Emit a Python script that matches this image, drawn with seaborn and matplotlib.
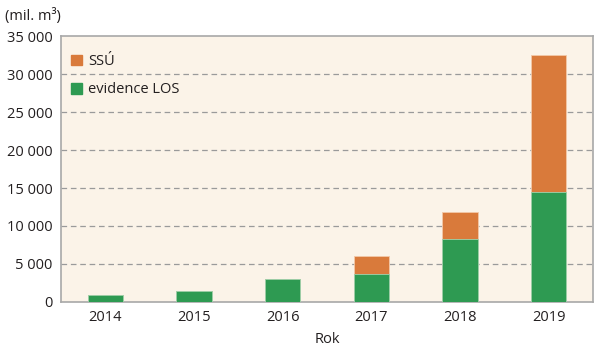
import matplotlib
matplotlib.use("Agg")
import matplotlib.pyplot as plt
from matplotlib.ticker import FuncFormatter, MultipleLocator
from matplotlib.patches import Patch
import seaborn as sns
import pandas as pd

years = ["2014", "2015", "2016", "2017", "2018", "2019"]
evidence_los = [950, 1500, 3000, 3700, 8300, 14500]
ssu = [0, 0, 0, 2300, 3600, 18000]

GREEN = "#2E9A52"
ORANGE = "#D97A3B"
BG = "#FBF3E8"
SPINE = "#A8A8A8"
TEXT = "#231F20"

sns.set_theme(style="white")
plt.rcParams["font.family"] = ["Open Sans", "DejaVu Sans"]

df = pd.DataFrame({
    "Rok": years,
    "los": evidence_los,
    "ssu": ssu,
})
df["total"] = df["los"] + df["ssu"]

fig = plt.figure(figsize=(6.0, 3.49), dpi=100)
ax = fig.add_axes([0.1017, 0.1347, 0.8866, 0.7621])
ax.set_facecolor(BG)

# stacked bars: full height in orange, LOS part painted over in green
sns.barplot(data=df, x="Rok", y="total", color=ORANGE, width=0.4,
            saturation=1, ax=ax, zorder=3, edgecolor="#F3C9A8", linewidth=0.6)
sns.barplot(data=df, x="Rok", y="los", color=GREEN, width=0.4,
            saturation=1, ax=ax, zorder=4, edgecolor="#9FD2AE", linewidth=0.6)

ax.set_ylim(0, 35000)
ax.set_xlim(-0.5, len(years) - 0.5)
ax.yaxis.set_major_locator(MultipleLocator(5000))
ax.yaxis.set_major_formatter(
    FuncFormatter(lambda v, p: f"{int(v):,}".replace(",", " ")))

for y in range(5000, 35000, 5000):
    ax.axhline(y, color="#9A9A9A", lw=0.9, ls=(0, (4.5, 3)), zorder=1)

for s in ax.spines.values():
    s.set_color(SPINE)
    s.set_linewidth(1.2)
    s.set_visible(True)

ax.tick_params(axis="both", length=0, labelsize=10.5, colors=TEXT, pad=6)
ax.set_xlabel("Rok", fontsize=10.5, color=TEXT, labelpad=5)
ax.set_ylabel("")
fig.text(0.008, 0.955, "(mil. m³)", fontsize=10.5, color=TEXT,
         ha="left", va="center")

handles = [Patch(color=ORANGE, label="SSÚ"),
           Patch(color=GREEN, label="evidence LOS")]
ax.legend(handles=handles, loc="upper left", frameon=False, fontsize=10.5,
          handlelength=0.75, handleheight=0.75, handletextpad=0.4,
          labelspacing=0.9, borderaxespad=0.3, bbox_to_anchor=(0.0, 0.97),
          labelcolor=TEXT)

fig.savefig("out.png", dpi=100, facecolor="white")
